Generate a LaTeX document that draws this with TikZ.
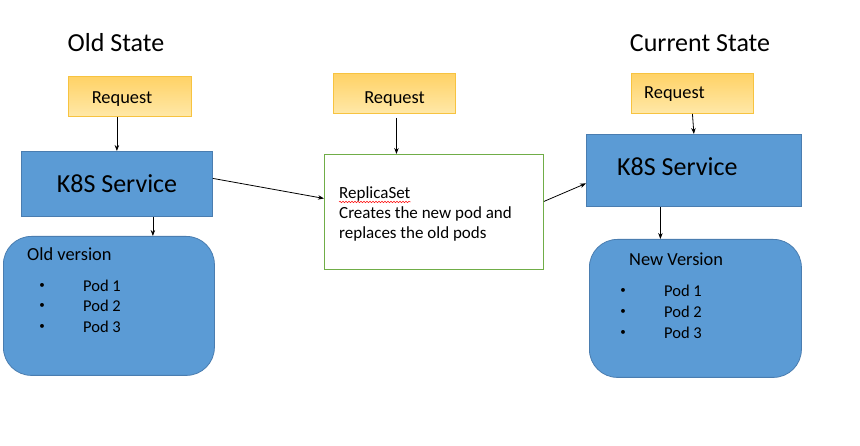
\documentclass[tikz,border=0pt]{standalone}
\usepackage{fontspec}
\setmainfont{Carlito}
\usetikzlibrary{arrows.meta,decorations.pathmorphing}
\definecolor{kblue}{HTML}{5B9BD5}
\definecolor{kblueline}{HTML}{4A7DB0}
\definecolor{ytop}{RGB}{255,210,102}
\definecolor{ybot}{RGB}{255,232,168}
\definecolor{yline}{HTML}{F7C340}
\definecolor{rgreen}{HTML}{70AD47}
\tikzset{
  bluebox/.style={draw=kblueline, fill=kblue, line width=0.8pt, anchor=north west, inner sep=0pt},
  podbox/.style={bluebox, rounded corners=28pt},
  reqbox/.style={draw=yline, top color=ytop, bottom color=ybot, line width=0.9pt, anchor=north west, inner sep=0pt},
  rsbox/.style={draw=rgreen, fill=white, line width=0.9pt, anchor=north west, inner sep=0pt},
  arr/.style={-{Stealth[length=6pt,width=4.5pt]}, line width=0.8pt, black},
  title/.style={font=\fontsize{26}{30}\selectfont, inner sep=0pt},
  ktext/.style={font=\fontsize{26}{30}\selectfont, inner sep=0pt},
  rtext/.style={font=\fontsize{18.4}{22}\selectfont, inner sep=0pt},
  ltext/.style={font=\fontsize{18.4}{22}\selectfont, inner sep=0pt, anchor=west},
  podtext/.style={font=\fontsize{16.5}{20}\selectfont, inner sep=0pt, anchor=west},
  bul/.style={font=\fontsize{11}{13}\selectfont, inner sep=0pt},
  rstext/.style={font=\fontsize{17}{20}\selectfont, inner sep=0pt, anchor=west},
}
\begin{document}
\begin{tikzpicture}[x=1pt,y=-1pt]
\useasboundingbox (0,0) rectangle (860,446);
\fill[white] (0,0) rectangle (860,446);

% titles
\node[title] (t1) at (116,43) {Old State};
\node[title] (t3) at (700,43) {Current State};

% left column
\node[reqbox, minimum width=123pt, minimum height=40pt] (r1) at (68,76) {};
\node[rtext] (r1t) at (122,99) {Request};
\node[bluebox, minimum width=191pt, minimum height=65pt] (k1) at (21,151) {};
\node[ktext] (k1t) at (117,184) {K8S Service};
\node[podbox, minimum width=211pt, minimum height=139pt] (p1) at (3,236) {};
\node[ltext] (p1t) at (27,254) {Old version};
\node[bul] (p1b1) at (42,286) {•};
\node[bul] (p1b2) at (42,306) {•};
\node[bul] (p1b3) at (42,327) {•};
\node[podtext] (p1a) at (83,286) {Pod 1};
\node[podtext] (p1c) at (83,306) {Pod 2};
\node[podtext] (p1d) at (83,327) {Pod 3};

% middle column
\node[reqbox, minimum width=122pt, minimum height=40pt] (r2) at (333,73) {};
\node[rtext] (r2t) at (394.5,99) {Request};
\node[rsbox, minimum width=219pt, minimum height=115pt] (rs) at (324,154) {};
\node[rstext] (rs1) at (339,193.5) {ReplicaSet};
\node[rstext] (rs2) at (339,214) {Creates the new pod and};
\node[rstext] (rs3) at (339,234) {replaces the old pods};
\draw[red, line width=0.5pt, decorate, decoration={snake, segment length=3pt, amplitude=0.7pt}]
  ([yshift=-1pt]rs1.south west) -- ([yshift=-1pt]rs1.south east);

% right column
\node[reqbox, minimum width=122pt, minimum height=40pt] (r3) at (631,73) {};
\node[rtext, anchor=west] (r3t) at (644,94) {Request};
\node[bluebox, minimum width=215pt, minimum height=72pt] (k3) at (586,134) {};
\node[ktext, anchor=west] (k3t) at (617,167) {K8S Service};
\node[podbox, minimum width=212pt, minimum height=138pt] (p3) at (589,239) {};
\node[ltext] (p3t) at (629,259) {New Version};
\node[bul] (p3b1) at (623,291) {•};
\node[bul] (p3b2) at (623,312) {•};
\node[bul] (p3b3) at (623,333) {•};
\node[podtext] (p3a) at (664,291) {Pod 1};
\node[podtext] (p3c) at (664,312) {Pod 2};
\node[podtext] (p3d) at (664,333) {Pod 3};

% connectors
\draw[arr] (r1.south -| k1.north) -- (k1.north);
\draw[arr] ([xshift=36pt]k1.south) -- ([xshift=36pt]k1.south |- p1.north);
\draw[arr] ([yshift=5.5pt]k1.east) -- ([yshift=13.5pt]rs.west);
\draw[arr, shorten <=4pt] ([xshift=2pt]r2.south) -- ([xshift=2pt]r2.south |- rs.north);
\draw[arr] ([yshift=10.5pt]rs.east) -- ([yshift=-13pt]k3.west);
\draw[arr] (r3.south) -- (k3.north);
\draw[arr] ([xshift=-33.5pt]k3.south) -- ([xshift=-33.5pt]k3.south |- p3.north);
\end{tikzpicture}
\end{document}
